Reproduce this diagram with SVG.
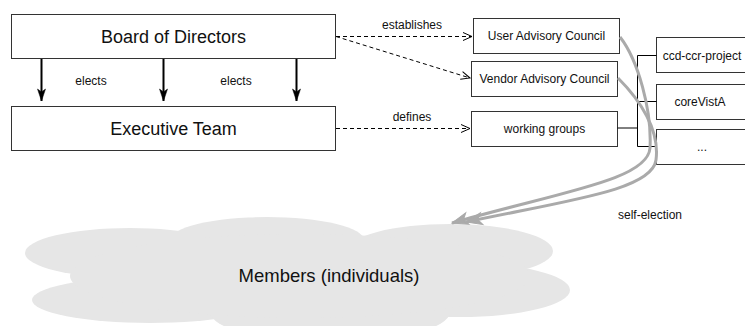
<svg xmlns="http://www.w3.org/2000/svg" width="745" height="326" viewBox="0 0 745 326">
  <defs>
    <marker id="arrElect" markerUnits="userSpaceOnUse" markerWidth="14" markerHeight="12" refX="12" refY="4" orient="auto" overflow="visible">
      <path d="M0,0 L12,4 L0,8 L3,4 Z" fill="#000" stroke="#000" stroke-width="0.5"/>
    </marker>
    <marker id="arrDash" markerUnits="userSpaceOnUse" markerWidth="10" markerHeight="10" refX="9" refY="4" orient="auto" overflow="visible">
      <path d="M0,0 L9,4 L0,8" fill="none" stroke="#000" stroke-width="1"/>
    </marker>
    <marker id="arrGray" markerUnits="userSpaceOnUse" markerWidth="20" markerHeight="16" refX="16" refY="6" orient="auto" overflow="visible">
      <path d="M0,0 L16,6 L0,12 L4,6 Z" fill="#aaaaaa" stroke="#aaaaaa" stroke-width="1"/>
    </marker>
  </defs>
  <style>
    .box { fill: #fff; stroke: #333; stroke-width: 1; }
    .big { font-family: "Liberation Sans", Arial, sans-serif; font-size: 18px; fill: #111; text-anchor: middle; }
    .lbl { font-family: "Liberation Sans", Arial, sans-serif; font-size: 12px; fill: #111; text-anchor: middle; }
    .cloud { fill: #e6e6e6; }
    .elect { stroke: #000; stroke-width: 2; fill: none; marker-end: url(#arrElect); }
    .dash { stroke: #000; stroke-width: 1; stroke-dasharray: 4 3; fill: none; marker-end: url(#arrDash); }
    .bus { stroke: #000; stroke-width: 1; fill: none; }
    .self { stroke: #aaaaaa; stroke-width: 3; fill: none; marker-end: url(#arrGray); }
  </style>

  <g id="members">
    <ellipse class="cloud" cx="130" cy="253" rx="105" ry="25"/>
    <ellipse class="cloud" cx="150" cy="300" rx="118" ry="23"/>
    <ellipse class="cloud" cx="267" cy="240" rx="97" ry="23"/>
    <ellipse class="cloud" cx="450" cy="251" rx="103" ry="27"/>
    <ellipse class="cloud" cx="460" cy="290" rx="110" ry="27"/>
    <ellipse class="cloud" cx="330" cy="312" rx="120" ry="30"/>
    <ellipse class="cloud" cx="300" cy="276" rx="230" ry="42"/>
    <text class="big" x="329" y="282" style="font-size:18.5px">Members (individuals)</text>
  </g>

  <g id="board">
    <rect class="box" x="11.5" y="14.5" width="324" height="44"/>
    <text class="big" x="173.5" y="43">Board of Directors</text>
  </g>
  <g id="exec">
    <rect class="box" x="11.5" y="106.5" width="324" height="44"/>
    <text class="big" x="173.5" y="135">Executive Team</text>
  </g>
  <g id="uac">
    <rect class="box" x="473.5" y="18.5" width="146" height="35"/>
    <text class="lbl" x="546.5" y="40">User Advisory Council</text>
  </g>
  <g id="vac">
    <rect class="box" x="471.5" y="61.5" width="146" height="35"/>
    <text class="lbl" x="544.5" y="83">Vendor Advisory Council</text>
  </g>
  <g id="wg">
    <rect class="box" x="471.5" y="111.5" width="146" height="35"/>
    <text class="lbl" x="544.5" y="133">working groups</text>
  </g>
  <g id="ccd">
    <rect class="box" x="656.5" y="37.5" width="110" height="35"/>
    <text class="lbl" x="702" y="60">ccd-ccr-project</text>
  </g>
  <g id="corevista">
    <rect class="box" x="656.5" y="84.5" width="110" height="35"/>
    <text class="lbl" x="700" y="106">coreVistA</text>
  </g>
  <g id="more">
    <rect class="box" x="656.5" y="129.5" width="110" height="35"/>
    <text class="lbl" x="702" y="151">...</text>
  </g>

  <g id="connectors">
    <line class="elect" x1="41.5" y1="59" x2="41.5" y2="101"/>
    <line class="elect" x1="163.5" y1="59" x2="163.5" y2="101"/>
    <line class="elect" x1="296.5" y1="59" x2="296.5" y2="101"/>
    <text class="lbl" x="91" y="85">elects</text>
    <text class="lbl" x="236" y="85">elects</text>

    <line class="dash" x1="336" y1="36.5" x2="472" y2="36.5"/>
    <line class="dash" x1="336" y1="36.5" x2="470" y2="78"/>
    <line class="dash" x1="336" y1="128.5" x2="470" y2="128.5"/>
    <text class="lbl" x="412" y="29">establishes</text>
    <text class="lbl" x="412" y="121">defines</text>

    <path class="bus" d="M617.5,128 H637.5 M637.5,55.5 V146.5 M637.5,55.5 H656.5 M637.5,101.5 H656.5 M637.5,146.5 H656.5"/>

    <path class="self" d="M620,37 C638,60 652,110 650,148 C648,180 560,192 452,223"/>
    <path class="self" d="M618,78 C640,100 660,130 656,160 C652,190 570,200 466,222"/>
    <text class="lbl" x="650" y="219">self-election</text>
  </g>
</svg>
